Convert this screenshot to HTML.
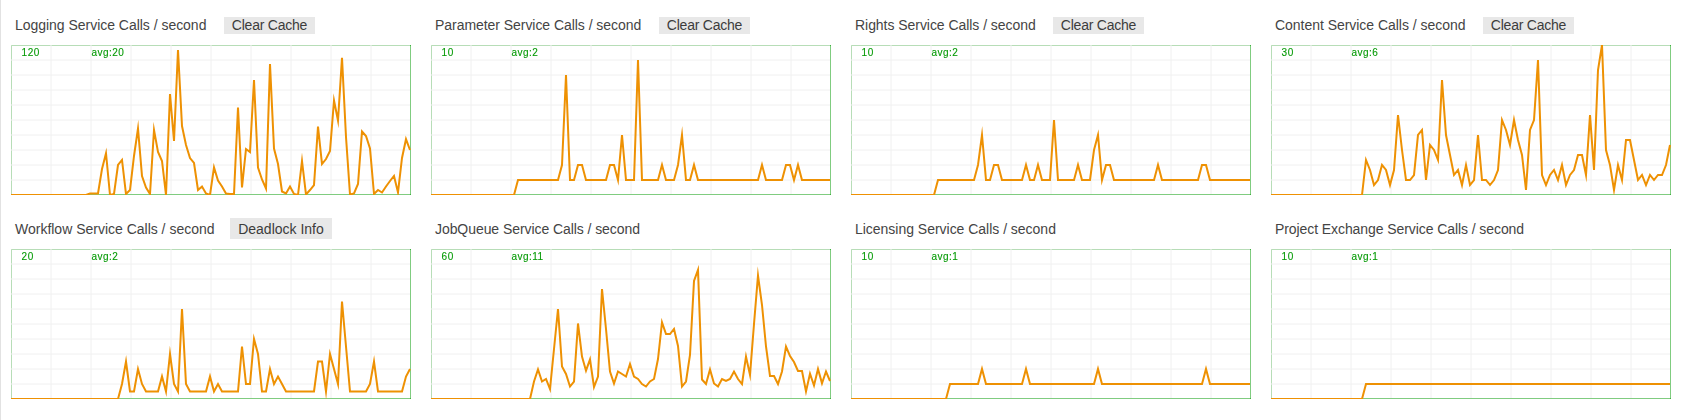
<!DOCTYPE html>
<html lang="en"><head><meta charset="utf-8"><title>Service Calls</title>
<style>
html,body{margin:0;padding:0;background:#fff;}
body{width:1682px;height:420px;position:relative;overflow:hidden;font-family:"Liberation Sans",sans-serif;}
.edge{position:absolute;left:0;top:0;width:1px;height:420px;background:#e2e2e2;}
.panel{position:absolute;width:420px;height:204px;}
.t{position:absolute;left:4px;top:-28px;height:16px;line-height:16px;font-size:14px;color:#444;white-space:nowrap;}
.b{position:absolute;top:-28px;height:17px;line-height:17px;font-size:14px;color:#3c3c3c;background:#e8e8e8;white-space:nowrap;text-align:center;}
.cv{position:absolute;left:0;top:0;width:400px;height:150px;overflow:hidden;display:block;will-change:transform;}
.ct{font-family:"Liberation Sans",sans-serif;font-size:10px;fill:#069a06;letter-spacing:0.5px;stroke:#069a06;stroke-width:0.12px;}
</style></head><body>
<div class="edge"></div>
<div class="panel" style="left:11px;top:45px"><span class="t" id="t0" style="letter-spacing:-0.0278px">Logging Service Calls / second</span><span class="b" id="b0" style="left:213px;width:91px;top:-28px;height:17px;line-height:17px;letter-spacing:-0.2300px">Clear Cache</span><svg class="cv" width="400" height="150" viewBox="0 0 400 150"><rect x="0" y="0" width="400" height="150" fill="none" stroke="#009900" stroke-width="1"/><path d="M0 0V149M40 0V149M80 0V149M120 0V149M160 0V149M200 0V149M240 0V149M280 0V149M320 0V149M360 0V149M0 0H399M0 15H399M0 30H399M0 45H399M0 60H399M0 75H399M0 90H399M0 105H399M0 120H399M0 135H399" stroke="#f0f0f0" stroke-width="1" fill="none"/><text x="10.6" y="10.5" class="ct">120</text><text x="80.4" y="10.5" class="ct">avg:20</text><polyline points="-1,150 3,150 7,150 11,150 15,150 19,150 23,150 27,150 31,150 35,150 39,150 43,150 47,150 51,150 55,150 59,150 63,150 67,150 71,150 75,150 79,148.5 83,148.5 87,148.5 91,124 95,108.22 99,150 103,149 107,120 111,115 115,149 119,145 123,111 127,83.5 131,131 135,142.5 139,149 143,84.92 147,107 151,116 155,150 159,49 163,96 167,5 171,81 175,100 179,113 183,118 187,145 191,141.5 195,148.5 199,150 203,122.4 207,135.5 211,141.5 215,148.5 219,149 223,149 227,62.5 231,142.38 235,104 239,107 243,35 247,122.5 251,134.5 255,143.5 259,19 263,103.5 267,119 271,146.5 275,148.5 279,141.5 283,149 287,150 291,116.08 295,149.5 299,145 303,140 307,81.6 311,119 315,114 319,106 323,55.5 327,75.5 331,12.78 335,92 339,149.5 343,148.5 347,139 351,86.5 355,91 359,103.5 363,149 367,145 371,147.5 375,141.5 379,136 383,131 387,147.4 391,113 395,94.19 399,105" fill="none" stroke="#ee9103" stroke-width="2" stroke-linejoin="miter" stroke-miterlimit="10"/></svg></div>
<div class="panel" style="left:431px;top:45px"><span class="t" id="t1" style="letter-spacing:-0.0489px">Parameter Service Calls / second</span><span class="b" id="b1" style="left:228px;width:91px;top:-28px;height:17px;line-height:17px;letter-spacing:-0.2300px">Clear Cache</span><svg class="cv" width="400" height="150" viewBox="0 0 400 150"><rect x="0" y="0" width="400" height="150" fill="none" stroke="#009900" stroke-width="1"/><path d="M0 0V149M40 0V149M80 0V149M120 0V149M160 0V149M200 0V149M240 0V149M280 0V149M320 0V149M360 0V149M0 0H399M0 15H399M0 30H399M0 45H399M0 60H399M0 75H399M0 90H399M0 105H399M0 120H399M0 135H399" stroke="#f0f0f0" stroke-width="1" fill="none"/><text x="10.6" y="10.5" class="ct">10</text><text x="80.4" y="10.5" class="ct">avg:2</text><polyline points="-1,150 3,150 7,150 11,150 15,150 19,150 23,150 27,150 31,150 35,150 39,150 43,150 47,150 51,150 55,150 59,150 63,150 67,150 71,150 75,150 79,150 83,150 87,135 91,135 95,135 99,135 103,135 107,135 111,135 115,135 119,135 123,135 127,135 131,120 135,30 139,135 143,135 147,120 151,120 155,135 159,135 163,135 167,135 171,135 175,135 179,120 183,120 187,135 191,90 195,135 199,135 203,135 207,15 211,135 215,135 219,135 223,135 227,135 231,120 235,135 239,135 243,135 247,120 251,90 255,135 259,135 263,120 267,135 271,135 275,135 279,135 283,135 287,135 291,135 295,135 299,135 303,135 307,135 311,135 315,135 319,135 323,135 327,135 331,120 335,135 339,135 343,135 347,135 351,135 355,120 359,120 363,135 367,120 371,135 375,135 379,135 383,135 387,135 391,135 395,135 399,135" fill="none" stroke="#ee9103" stroke-width="2" stroke-linejoin="miter" stroke-miterlimit="10"/></svg></div>
<div class="panel" style="left:851px;top:45px"><span class="t" id="t2" style="letter-spacing:-0.0475px">Rights Service Calls / second</span><span class="b" id="b2" style="left:202px;width:91px;top:-28px;height:17px;line-height:17px;letter-spacing:-0.2300px">Clear Cache</span><svg class="cv" width="400" height="150" viewBox="0 0 400 150"><rect x="0" y="0" width="400" height="150" fill="none" stroke="#009900" stroke-width="1"/><path d="M0 0V149M40 0V149M80 0V149M120 0V149M160 0V149M200 0V149M240 0V149M280 0V149M320 0V149M360 0V149M0 0H399M0 15H399M0 30H399M0 45H399M0 60H399M0 75H399M0 90H399M0 105H399M0 120H399M0 135H399" stroke="#f0f0f0" stroke-width="1" fill="none"/><text x="10.6" y="10.5" class="ct">10</text><text x="80.4" y="10.5" class="ct">avg:2</text><polyline points="-1,150 3,150 7,150 11,150 15,150 19,150 23,150 27,150 31,150 35,150 39,150 43,150 47,150 51,150 55,150 59,150 63,150 67,150 71,150 75,150 79,150 83,150 87,135 91,135 95,135 99,135 103,135 107,135 111,135 115,135 119,135 123,135 127,120 131,90 135,135 139,135 143,120 147,120 151,135 155,135 159,135 163,135 167,135 171,135 175,120 179,135 183,135 187,120 191,135 195,135 199,135 203,75 207,135 211,135 215,135 219,135 223,135 227,120 231,135 235,135 239,135 243,105 247,90 251,135 255,120 259,120 263,135 267,135 271,135 275,135 279,135 283,135 287,135 291,135 295,135 299,135 303,135 307,120 311,135 315,135 319,135 323,135 327,135 331,135 335,135 339,135 343,135 347,135 351,120 355,120 359,135 363,135 367,135 371,135 375,135 379,135 383,135 387,135 391,135 395,135 399,135" fill="none" stroke="#ee9103" stroke-width="2" stroke-linejoin="miter" stroke-miterlimit="10"/></svg></div>
<div class="panel" style="left:1271px;top:45px"><span class="t" id="t3" style="letter-spacing:-0.0346px">Content Service Calls / second</span><span class="b" id="b3" style="left:212px;width:91px;top:-28px;height:17px;line-height:17px;letter-spacing:-0.2300px">Clear Cache</span><svg class="cv" width="400" height="150" viewBox="0 0 400 150"><rect x="0" y="0" width="400" height="150" fill="none" stroke="#009900" stroke-width="1"/><path d="M0 0V149M40 0V149M80 0V149M120 0V149M160 0V149M200 0V149M240 0V149M280 0V149M320 0V149M360 0V149M0 0H399M0 15H399M0 30H399M0 45H399M0 60H399M0 75H399M0 90H399M0 105H399M0 120H399M0 135H399" stroke="#f0f0f0" stroke-width="1" fill="none"/><text x="10.6" y="10.5" class="ct">30</text><text x="80.4" y="10.5" class="ct">avg:6</text><polyline points="-1,150 3,150 7,150 11,150 15,150 19,150 23,150 27,150 31,150 35,150 39,150 43,150 47,150 51,150 55,150 59,150 63,150 67,150 71,150 75,150 79,150 83,150 87,150 91,150 95,115 99,125 103,140 107,135 111,120 115,125 119,140 123,125 127,70 131,105 135,135 139,135 143,130 147,90 151,85 155,135 159,100 163,105 167,115 171,35 175,90 179,110 183,130 187,125 191,140 195,120 199,140 203,135 207,90 211,135 215,135 219,140 223,135 227,125 231,75 235,85 239,100 243,75 247,95 251,110 255,145 259,85 263,75 267,15 271,130 275,140 279,130 283,125 287,135 291,120 295,140 299,130 303,125 307,110 311,110 315,130 319,70 323,125 327,25 331,0 335,105 339,120 343,145 347,120 351,135 355,95 359,95 363,115 367,135 371,130 375,140 379,130 383,135 387,130 391,130 395,120 399,100" fill="none" stroke="#ee9103" stroke-width="2" stroke-linejoin="miter" stroke-miterlimit="10"/></svg></div>
<div class="panel" style="left:11px;top:249px"><span class="t" id="t4" style="letter-spacing:-0.0066px">Workflow Service Calls / second</span><span class="b" id="b4" style="left:219px;width:102px;top:-31px;height:21px;line-height:22px;letter-spacing:0.0000px">Deadlock Info</span><svg class="cv" width="400" height="150" viewBox="0 0 400 150"><rect x="0" y="0" width="400" height="150" fill="none" stroke="#009900" stroke-width="1"/><path d="M0 0V149M40 0V149M80 0V149M120 0V149M160 0V149M200 0V149M240 0V149M280 0V149M320 0V149M360 0V149M0 0H399M0 15H399M0 30H399M0 45H399M0 60H399M0 75H399M0 90H399M0 105H399M0 120H399M0 135H399" stroke="#f0f0f0" stroke-width="1" fill="none"/><text x="10.6" y="10.5" class="ct">20</text><text x="80.4" y="10.5" class="ct">avg:2</text><polyline points="-1,150 3,150 7,150 11,150 15,150 19,150 23,150 27,150 31,150 35,150 39,150 43,150 47,150 51,150 55,150 59,150 63,150 67,150 71,150 75,150 79,150 83,150 87,150 91,150 95,150 99,150 103,150 107,150 111,135 115,112.5 119,142.5 123,142.5 127,120 131,135 135,142.5 139,142.5 143,142.5 147,142.5 151,127.5 155,142.5 159,105 163,135 167,142.5 171,60 175,135 179,142.5 183,142.5 187,142.5 191,142.5 195,142.5 199,127.5 203,142.5 207,135 211,142.5 215,142.5 219,142.5 223,142.5 227,142.5 231,97.5 235,135 239,135 243,90 247,105 251,142.5 255,142.5 259,120 263,135 267,127.5 271,135 275,142.5 279,142.5 283,142.5 287,142.5 291,142.5 295,142.5 299,142.5 303,142.5 307,112.5 311,112.5 315,142.5 319,105 323,120 327,135 331,52.5 335,97.5 339,142.5 343,142.5 347,142.5 351,142.5 355,142.5 359,135 363,112.5 367,142.5 371,142.5 375,142.5 379,142.5 383,142.5 387,142.5 391,142.5 395,127.5 399,120" fill="none" stroke="#ee9103" stroke-width="2" stroke-linejoin="miter" stroke-miterlimit="10"/></svg></div>
<div class="panel" style="left:431px;top:249px"><span class="t" id="t5" style="letter-spacing:-0.0677px">JobQueue Service Calls / second</span><svg class="cv" width="400" height="150" viewBox="0 0 400 150"><rect x="0" y="0" width="400" height="150" fill="none" stroke="#009900" stroke-width="1"/><path d="M0 0V149M40 0V149M80 0V149M120 0V149M160 0V149M200 0V149M240 0V149M280 0V149M320 0V149M360 0V149M0 0H399M0 15H399M0 30H399M0 45H399M0 60H399M0 75H399M0 90H399M0 105H399M0 120H399M0 135H399" stroke="#f0f0f0" stroke-width="1" fill="none"/><text x="10.6" y="10.5" class="ct">60</text><text x="80.4" y="10.5" class="ct">avg:11</text><polyline points="-1,150 3,150 7,150 11,150 15,150 19,150 23,150 27,150 31,150 35,150 39,150 43,150 47,150 51,150 55,150 59,150 63,150 67,150 71,150 75,150 79,150 83,150 87,150 91,150 95,150 99,150 103,132.5 107,120.42 111,132.5 115,130 119,140 123,100 127,60 131,117.5 135,125 139,137.5 143,132.5 147,74.46 151,107.5 155,121.66 159,110.4 163,138 167,127.5 171,40 175,80 179,122.5 183,134.5 187,122.5 191,125 195,127.5 199,115 203,127.5 207,130 211,135 215,137.5 219,132.5 223,130 227,110 231,73.34 235,85 239,85 243,80 247,97 251,137.5 255,132.5 259,106 263,32 267,21 271,130.5 275,135 279,120.42 283,134.5 287,137.5 291,130 295,132 299,130 303,122.5 307,130 311,135 315,107.61 319,125.9 323,75 327,26.5 331,56 335,97.5 339,127 343,127 347,135 351,122.5 355,97.5 359,107 363,113 367,122 371,122 375,142.5 379,124.72 383,136.52 387,120 391,134.3 395,122.5 399,132" fill="none" stroke="#ee9103" stroke-width="2" stroke-linejoin="miter" stroke-miterlimit="10"/></svg></div>
<div class="panel" style="left:851px;top:249px"><span class="t" id="t6" style="letter-spacing:-0.0202px">Licensing Service Calls / second</span><svg class="cv" width="400" height="150" viewBox="0 0 400 150"><rect x="0" y="0" width="400" height="150" fill="none" stroke="#009900" stroke-width="1"/><path d="M0 0V149M40 0V149M80 0V149M120 0V149M160 0V149M200 0V149M240 0V149M280 0V149M320 0V149M360 0V149M0 0H399M0 15H399M0 30H399M0 45H399M0 60H399M0 75H399M0 90H399M0 105H399M0 120H399M0 135H399" stroke="#f0f0f0" stroke-width="1" fill="none"/><text x="10.6" y="10.5" class="ct">10</text><text x="80.4" y="10.5" class="ct">avg:1</text><polyline points="-1,150 3,150 7,150 11,150 15,150 19,150 23,150 27,150 31,150 35,150 39,150 43,150 47,150 51,150 55,150 59,150 63,150 67,150 71,150 75,150 79,150 83,150 87,150 91,150 95,150 99,135 103,135 107,135 111,135 115,135 119,135 123,135 127,135 131,120 135,135 139,135 143,135 147,135 151,135 155,135 159,135 163,135 167,135 171,135 175,120 179,135 183,135 187,135 191,135 195,135 199,135 203,135 207,135 211,135 215,135 219,135 223,135 227,135 231,135 235,135 239,135 243,135 247,120 251,135 255,135 259,135 263,135 267,135 271,135 275,135 279,135 283,135 287,135 291,135 295,135 299,135 303,135 307,135 311,135 315,135 319,135 323,135 327,135 331,135 335,135 339,135 343,135 347,135 351,135 355,120 359,135 363,135 367,135 371,135 375,135 379,135 383,135 387,135 391,135 395,135 399,135" fill="none" stroke="#ee9103" stroke-width="2" stroke-linejoin="miter" stroke-miterlimit="10"/></svg></div>
<div class="panel" style="left:1271px;top:249px"><span class="t" id="t7" style="letter-spacing:-0.0801px">Project Exchange Service Calls / second</span><svg class="cv" width="400" height="150" viewBox="0 0 400 150"><rect x="0" y="0" width="400" height="150" fill="none" stroke="#009900" stroke-width="1"/><path d="M0 0V149M40 0V149M80 0V149M120 0V149M160 0V149M200 0V149M240 0V149M280 0V149M320 0V149M360 0V149M0 0H399M0 15H399M0 30H399M0 45H399M0 60H399M0 75H399M0 90H399M0 105H399M0 120H399M0 135H399" stroke="#f0f0f0" stroke-width="1" fill="none"/><text x="10.6" y="10.5" class="ct">10</text><text x="80.4" y="10.5" class="ct">avg:1</text><polyline points="-1,150 3,150 7,150 11,150 15,150 19,150 23,150 27,150 31,150 35,150 39,150 43,150 47,150 51,150 55,150 59,150 63,150 67,150 71,150 75,150 79,150 83,150 87,150 91,150 95,135 99,135 103,135 107,135 111,135 115,135 119,135 123,135 127,135 131,135 135,135 139,135 143,135 147,135 151,135 155,135 159,135 163,135 167,135 171,135 175,135 179,135 183,135 187,135 191,135 195,135 199,135 203,135 207,135 211,135 215,135 219,135 223,135 227,135 231,135 235,135 239,135 243,135 247,135 251,135 255,135 259,135 263,135 267,135 271,135 275,135 279,135 283,135 287,135 291,135 295,135 299,135 303,135 307,135 311,135 315,135 319,135 323,135 327,135 331,135 335,135 339,135 343,135 347,135 351,135 355,135 359,135 363,135 367,135 371,135 375,135 379,135 383,135 387,135 391,135 395,135 399,135" fill="none" stroke="#ee9103" stroke-width="2" stroke-linejoin="miter" stroke-miterlimit="10"/></svg></div>
</body></html>
